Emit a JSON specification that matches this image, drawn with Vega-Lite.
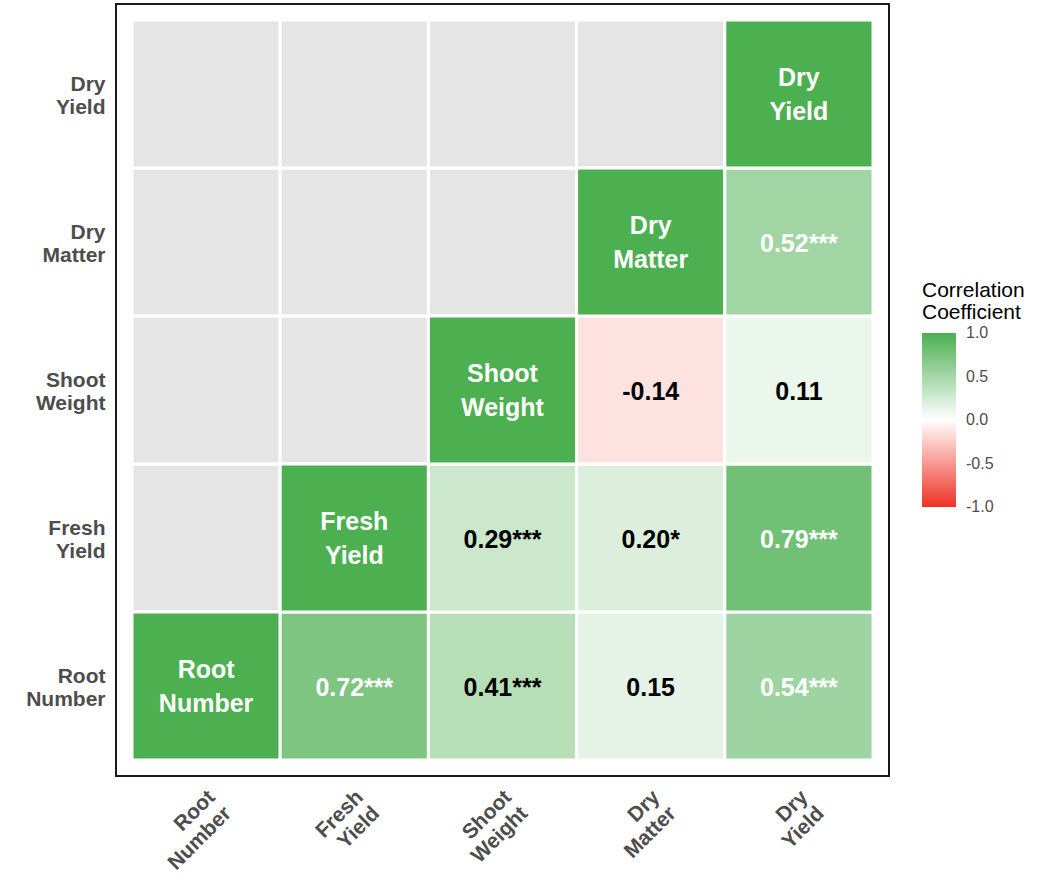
{
  "$schema": "https://vega.github.io/schema/vega-lite/v6.json",
  "autosize": "none",
  "padding": {"left": 116, "top": 4, "right": 159, "bottom": 105},
  "width": 773,
  "height": 772,
  "background": "white",
  "config": {
    "view": {"stroke": "#1a1a1a", "strokeWidth": 2},
    "font": "Liberation Sans"
  },
  "data": {
    "values": [
      {"col": "Root Number", "row": "Root Number", "r": 1, "label": "Root\nNumber"},
      {"col": "Fresh Yield", "row": "Root Number", "r": 0.72, "label": "0.72***"},
      {"col": "Shoot Weight", "row": "Root Number", "r": 0.41, "label": "0.41***"},
      {"col": "Dry Matter", "row": "Root Number", "r": 0.15, "label": "0.15"},
      {"col": "Dry Yield", "row": "Root Number", "r": 0.54, "label": "0.54***"},
      {"col": "Root Number", "row": "Fresh Yield", "r": null, "label": ""},
      {"col": "Fresh Yield", "row": "Fresh Yield", "r": 1, "label": "Fresh\nYield"},
      {"col": "Shoot Weight", "row": "Fresh Yield", "r": 0.29, "label": "0.29***"},
      {"col": "Dry Matter", "row": "Fresh Yield", "r": 0.20, "label": "0.20*"},
      {"col": "Dry Yield", "row": "Fresh Yield", "r": 0.79, "label": "0.79***"},
      {"col": "Root Number", "row": "Shoot Weight", "r": null, "label": ""},
      {"col": "Fresh Yield", "row": "Shoot Weight", "r": null, "label": ""},
      {"col": "Shoot Weight", "row": "Shoot Weight", "r": 1, "label": "Shoot\nWeight"},
      {"col": "Dry Matter", "row": "Shoot Weight", "r": -0.14, "label": "-0.14"},
      {"col": "Dry Yield", "row": "Shoot Weight", "r": 0.11, "label": "0.11"},
      {"col": "Root Number", "row": "Dry Matter", "r": null, "label": ""},
      {"col": "Fresh Yield", "row": "Dry Matter", "r": null, "label": ""},
      {"col": "Shoot Weight", "row": "Dry Matter", "r": null, "label": ""},
      {"col": "Dry Matter", "row": "Dry Matter", "r": 1, "label": "Dry\nMatter"},
      {"col": "Dry Yield", "row": "Dry Matter", "r": 0.52, "label": "0.52***"},
      {"col": "Root Number", "row": "Dry Yield", "r": null, "label": ""},
      {"col": "Fresh Yield", "row": "Dry Yield", "r": null, "label": ""},
      {"col": "Shoot Weight", "row": "Dry Yield", "r": null, "label": ""},
      {"col": "Dry Matter", "row": "Dry Yield", "r": null, "label": ""},
      {"col": "Dry Yield", "row": "Dry Yield", "r": 1, "label": "Dry\nYield"}
    ]
  },
  "encoding": {
    "x": {
      "field": "col", "type": "nominal",
      "scale": {"type": "band", "domain": ["Root Number", "Fresh Yield", "Shoot Weight", "Dry Matter", "Dry Yield"], "paddingInner": 0, "paddingOuter": 0.108},
      "axis": {
        "title": null, "domain": false, "ticks": false,
        "labelAngle": -45, "labelAlign": "right", "labelBaseline": "top",
        "labelFontSize": 21, "labelFontWeight": "bold", "labelColor": "#4d4d4d",
        "labelExpr": "split(datum.label, ' ')", "labelLineHeight": 23,
        "labelPadding": 10, "labelOffset": -2
      }
    },
    "y": {
      "field": "row", "type": "nominal",
      "scale": {"type": "band", "domain": ["Dry Yield", "Dry Matter", "Shoot Weight", "Fresh Yield", "Root Number"], "paddingInner": 0, "paddingOuter": 0.108},
      "axis": {
        "title": null, "domain": false, "ticks": false,
        "labelFontSize": 21, "labelFontWeight": "bold", "labelColor": "#4d4d4d",
        "labelExpr": "split(datum.label, ' ')", "labelLineHeight": 23,
        "labelPadding": 11, "labelBaseline": "middle", "labelOffset": -9
      }
    }
  },
  "layer": [
    {
      "mark": {"type": "rect", "fill": "#E5E5E5", "stroke": "white", "strokeWidth": 3}
    },
    {
      "transform": [{"filter": "datum.r !== null"}],
      "mark": {"type": "rect", "stroke": "white", "strokeWidth": 3},
      "encoding": {
        "color": {
          "field": "r", "type": "quantitative",
          "scale": {"type": "linear", "domain": [-1, 0, 1], "range": ["#EE3124", "#FFFFFF", "#4CAF50"], "interpolate": "rgb"},
          "legend": {
            "title": ["Correlation", "Coefficient"],
            "orient": "none", "legendX": 806, "legendY": 276,
            "direction": "vertical",
            "gradientLength": 174, "gradientThickness": 34, "gradientStrokeWidth": 0,
            "values": [-1, -0.5, 0, 0.5, 1],
            "labelExpr": "replace(format(datum.value, '.1f'), '\u2212', '-')",
            "titleFontSize": 21, "titleFontWeight": "normal", "titleColor": "black",
            "titleLineHeight": 22, "titlePadding": 10,
            "labelFontSize": 16, "labelColor": "#4d4d4d", "labelOffset": 10,
            "labelBaseline": "middle",
            "encode": {"labels": {"update": {"baseline": {"value": "middle"}}}}
          }
        }
      }
    },
    {
      "transform": [{"filter": "datum.r !== 1"}],
      "mark": {"type": "text", "fontSize": 25, "fontWeight": "bold", "baseline": "middle", "align": "center", "dy": 2},
      "encoding": {
        "text": {"field": "label", "type": "nominal"},
        "color": {"condition": {"test": "datum.r > 0.5", "value": "white"}, "value": "black"}
      }
    },
    {
      "transform": [{"filter": "datum.r === 1"}],
      "mark": {"type": "text", "fontSize": 25, "fontWeight": "bold", "lineBreak": "\n", "lineHeight": 34, "baseline": "middle", "align": "center", "dy": -16},
      "encoding": {
        "text": {"field": "label", "type": "nominal"},
        "color": {"value": "white"}
      }
    }
  ]
}
